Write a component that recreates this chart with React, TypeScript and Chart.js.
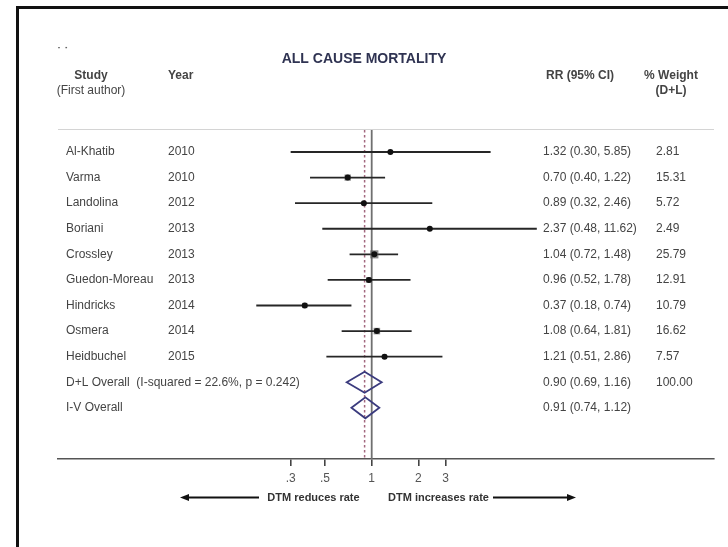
import React, { useEffect, useRef } from "react";
import { Chart, registerables } from "chart.js";

Chart.register(...registerables);

// ---- data ----
const studies = ["Al-Khatib", "Varma", "Landolina", "Boriani", "Crossley", "Guedon-Moreau", "Hindricks", "Osmera", "Heidbuchel"];
const years = ["2010", "2010", "2012", "2013", "2013", "2013", "2014", "2014", "2015"];
const rr = [1.32, 0.70, 0.89, 2.37, 1.04, 0.96, 0.37, 1.08, 1.21];
const ciLow = [0.30, 0.40, 0.32, 0.48, 0.72, 0.52, 0.18, 0.64, 0.51];
const ciHigh = [5.85, 1.22, 2.46, 11.62, 1.48, 1.78, 0.74, 1.81, 2.86];
const weights = [2.81, 15.31, 5.72, 2.49, 25.79, 12.91, 10.79, 16.62, 7.57];

const overallLabels = ["D+L Overall  (I-squared = 22.6%, p = 0.242)", "I-V Overall"];
const overallRR = [0.90, 0.91];
const overallLow = [0.69, 0.74];
const overallHigh = [1.16, 1.12];
const overallWeight = ["100.00", ""];

const tickValues = [0.3, 0.5, 1, 2, 3];
const tickLabels = [".3", ".5", "1", "2", "3"];
const nullValue = 1;

const FONT = "'Liberation Sans', Arial, sans-serif";

const fmtCI = (v: number, l: number, h: number) =>
  `${v.toFixed(2)} (${l.toFixed(2)}, ${h.toFixed(2)})`;

const forestPlugin = {
  id: "forest",
  beforeDatasetsDraw(chart: any) {
    const { ctx, chartArea, scales } = chart;
    const xs = scales.x;
    const ys = scales.y;
    ctx.save();
    // header rule
    ctx.strokeStyle = "#d4d4d4";
    ctx.lineWidth = 1;
    ctx.beginPath();
    ctx.moveTo(chartArea.left, chartArea.top + 0.5);
    ctx.lineTo(chartArea.right, chartArea.top + 0.5);
    ctx.stroke();
    // null line
    const x1 = xs.getPixelForValue(nullValue);
    ctx.strokeStyle = "#707070";
    ctx.lineWidth = 1.8;
    ctx.beginPath();
    ctx.moveTo(x1, chartArea.top + 1);
    ctx.lineTo(x1, chartArea.bottom);
    ctx.stroke();
    // pooled dashed line
    const xp = xs.getPixelForValue(overallRR[0]);
    ctx.strokeStyle = "#a3687f";
    ctx.lineWidth = 1.5;
    ctx.setLineDash([2.5, 2.5]);
    ctx.beginPath();
    ctx.moveTo(xp, chartArea.top + 1);
    ctx.lineTo(xp, chartArea.bottom);
    ctx.stroke();
    ctx.setLineDash([]);
    // CI lines and weight boxes
    studies.forEach((_, i) => {
      const y = ys.getPixelForValue(i);
      ctx.strokeStyle = "#262626";
      ctx.lineWidth = 1.8;
      ctx.beginPath();
      ctx.moveTo(xs.getPixelForValue(ciLow[i]), y);
      ctx.lineTo(xs.getPixelForValue(ciHigh[i]), y);
      ctx.stroke();
      const s = 1.6 * Math.sqrt(weights[i]);
      const cx = xs.getPixelForValue(rr[i]);
      ctx.fillStyle = "rgba(90,90,90,0.7)";
      ctx.fillRect(cx - s / 2, y - s / 2, s, s);
    });
    ctx.restore();
  },
  afterDatasetsDraw(chart: any) {
    const { ctx, scales } = chart;
    const xs = scales.x;
    const ys = scales.y;
    ctx.save();
    ctx.strokeStyle = "#3b3b7e";
    ctx.lineWidth = 1.8;
    overallRR.forEach((v, j) => {
      const y = ys.getPixelForValue(studies.length + j);
      const h = 10.5;
      ctx.beginPath();
      ctx.moveTo(xs.getPixelForValue(overallLow[j]), y);
      ctx.lineTo(xs.getPixelForValue(v), y - h);
      ctx.lineTo(xs.getPixelForValue(overallHigh[j]), y);
      ctx.lineTo(xs.getPixelForValue(v), y + h);
      ctx.closePath();
      ctx.stroke();
    });
    ctx.restore();
  },
  afterDraw(chart: any) {
    const { ctx, scales, chartArea } = chart;
    const ys = scales.y;
    ctx.save();
    ctx.textBaseline = "middle";
    // title
    ctx.fillStyle = "#2f3352";
    ctx.font = `bold 14px ${FONT}`;
    ctx.textAlign = "center";
    ctx.fillText("ALL CAUSE MORTALITY", 364, 59);
    ctx.fillStyle = "#666";
    ctx.font = `bold 12px ${FONT}`;
    ctx.textAlign = "left";
    ctx.fillText("˙ ˙", 57, 53);
    // headers
    ctx.fillStyle = "#444";
    ctx.font = `bold 12px ${FONT}`;
    ctx.textAlign = "center";
    ctx.fillText("Study", 91, 76);
    ctx.font = `12px ${FONT}`;
    ctx.fillText("(First author)", 91, 91);
    ctx.font = `bold 12px ${FONT}`;
    ctx.textAlign = "left";
    ctx.fillText("Year", 168, 76);
    ctx.fillText("RR (95% CI)", 546, 76);
    ctx.textAlign = "center";
    ctx.fillText("% Weight", 671, 76);
    ctx.fillText("(D+L)", 671, 91);
    // rows
    ctx.font = `12px ${FONT}`;
    ctx.textAlign = "left";
    ctx.fillStyle = "#444";
    studies.forEach((name, i) => {
      const y = ys.getPixelForValue(i);
      ctx.fillText(name, 66, y);
      ctx.fillText(years[i], 168, y);
      ctx.fillText(fmtCI(rr[i], ciLow[i], ciHigh[i]), 543, y);
      ctx.fillText(weights[i].toFixed(2), 656, y);
    });
    overallLabels.forEach((lab, j) => {
      const y = ys.getPixelForValue(studies.length + j);
      ctx.fillText(lab, 66, y);
      ctx.fillText(fmtCI(overallRR[j], overallLow[j], overallHigh[j]), 543, y);
      ctx.fillText(overallWeight[j], 656, y);
    });
    // direction arrows
    const ay = chartArea.bottom + 38.5;
    ctx.font = `bold 11px ${FONT}`;
    ctx.fillStyle = "#333";
    ctx.textAlign = "center";
    ctx.fillText("DTM reduces rate", 313.5, ay);
    ctx.fillText("DTM increases rate", 438.5, ay);
    ctx.strokeStyle = "#111";
    ctx.fillStyle = "#111";
    ctx.lineWidth = 2;
    const arrow = (from: number, to: number) => {
      const dir = Math.sign(to - from);
      ctx.beginPath();
      ctx.moveTo(from, ay);
      ctx.lineTo(to - dir * 6, ay);
      ctx.stroke();
      ctx.beginPath();
      ctx.moveTo(to, ay);
      ctx.lineTo(to - dir * 9, ay - 3.5);
      ctx.lineTo(to - dir * 9, ay + 3.5);
      ctx.closePath();
      ctx.fill();
    };
    arrow(259, 180);
    arrow(493, 576);
    ctx.restore();
  },
};

export default function App() {
  const ref = useRef<HTMLCanvasElement | null>(null);
  useEffect(() => {
    if (!ref.current) return;
    const chart = new Chart(ref.current, {
      type: "scatter",
      data: {
        datasets: [
          {
            data: rr.map((v, i) => ({ x: v, y: i })),
            backgroundColor: "#111",
            borderWidth: 0,
            pointRadius: 3,
            pointHoverRadius: 3,
          },
        ],
      },
      options: {
        responsive: false,
        animation: false,
        layout: { padding: { left: 58, right: 14, top: 129, bottom: 58 } },
        plugins: { legend: { display: false }, title: { display: false }, tooltip: { enabled: false } },
        scales: {
          x: {
            type: "logarithmic",
            min: Math.pow(10, -2.0239),
            max: Math.pow(10, 2.2084),
            afterBuildTicks: (scale: any) => {
              scale.ticks = tickValues.map((v) => ({ value: v }));
            },
            afterFit: (scale: any) => {
              scale.height = 30;
            },
            ticks: {
              autoSkip: false,
              maxRotation: 0,
              padding: 5,
              color: "#555",
              font: { family: FONT, size: 12 },
              callback: (value: any) => {
                const k = tickValues.indexOf(Number(value));
                return k >= 0 ? tickLabels[k] : "";
              },
            },
            grid: {
              display: true,
              drawOnChartArea: false,
              drawTicks: true,
              tickLength: 7,
              color: "#444",
              lineWidth: 1.6,
            },
            border: { display: true, color: "#555", width: 1.5 },
          },
          y: {
            type: "linear",
            reverse: true,
            min: -0.9,
            max: 12,
            display: false,
          },
        },
      },
      plugins: [forestPlugin],
    });
    return () => chart.destroy();
  }, []);

  return (
    <div style={{ position: "fixed", left: 0, top: 0, width: 728, height: 547, background: "#fff", overflow: "hidden" }}>
      <canvas ref={ref} width={728} height={547} style={{ position: "absolute", left: 0, top: 0, width: 728, height: 547 }} />
      <div
        style={{
          position: "absolute",
          left: 16,
          top: 6,
          width: 760,
          height: 600,
          borderLeft: "3px solid #111",
          borderTop: "3px solid #111",
          pointerEvents: "none",
        }}
      />
    </div>
  );
}
